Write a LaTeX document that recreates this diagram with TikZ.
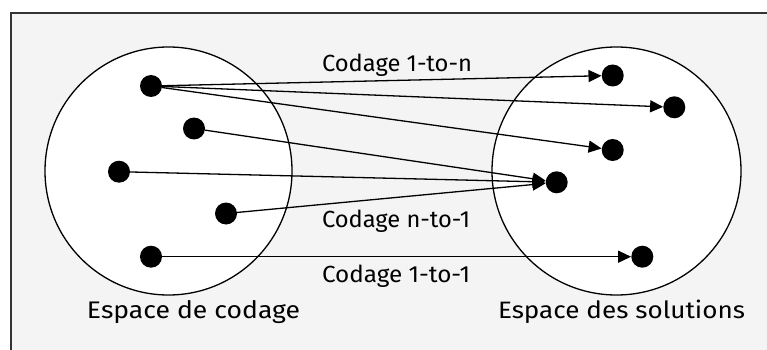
\documentclass[tikz,border=0pt]{standalone}
\usepackage{fontspec}
\usepackage{graphicx}
\setmainfont{Fira Sans}
\usetikzlibrary{arrows.meta,shapes.geometric}
\definecolor{bgcol}{HTML}{F4F4F4}
\definecolor{framecol}{HTML}{333333}
\newcommand{\fitlabel}[3]{\resizebox{#1pt}{#2pt}{#3}}
\tikzset{
  dot/.style={circle, fill=black, minimum size=22pt, inner sep=0pt},
  space/.style={ellipse, draw=black, fill=white, line width=1.3pt, inner sep=0pt},
  arr/.style={-{Triangle[length=13pt,width=12pt]}, line width=1.3pt},
  lbl/.style={anchor=base, inner sep=0pt, text=black, font=\fontsize{20pt}{24pt}\selectfont}
}
\begin{document}
\begin{tikzpicture}[x=1pt,y=-1pt]
\useasboundingbox (0,0) rectangle (767,350);
\fill[white] (0,0) rectangle (767,350);
\fill[bgcol] (11,13) rectangle (767,350);
\draw[framecol, line width=2pt] (11,350) -- (11,13) -- (767,13);

\node[space, minimum width=247pt, minimum height=248pt] (cod) at (168.5,171) {};
\node[space, minimum width=249pt, minimum height=248pt] (sol) at (616.5,171) {};

\node[dot] (a1) at (151,86) {};
\node[dot] (a2) at (194,128.5) {};
\node[dot] (a3) at (119,171.7) {};
\node[dot] (a4) at (226,213.5) {};
\node[dot] (a5) at (151,256.7) {};

\node[dot] (b1) at (612.7,75.5) {};
\node[dot] (b2) at (674.3,107.3) {};
\node[dot] (b3) at (612.7,150) {};
\node[dot] (b4) at (556.7,182.3) {};
\node[dot] (b5) at (642.3,256.7) {};

\draw[arr] (a1) -- (b1);
\draw[arr] (a1) -- (b2);
\draw[arr] (a1) -- (b3);
\draw[arr] (a2) -- (b4);
\draw[arr] (a3) -- (b4);
\draw[arr] (a4) -- (b4);
\draw[arr] (a5) -- (b5);

\node[lbl] (l1) at (397,71.5) {\fitlabel{150}{17.5}{Codage 1-to-n}};
\node[lbl] (l2) at (396,227.5) {\fitlabel{148}{17.5}{Codage n-to-1}};
\node[lbl] (l3) at (396,282) {\fitlabel{148}{17.5}{Codage 1-to-1}};
\node[lbl] (l4) at (193.5,318) {\fitlabel{213}{18}{Espace de codage}};
\node[lbl] (l5) at (621.5,318.3) {\fitlabel{247}{18.5}{Espace des solutions}};
\end{tikzpicture}
\end{document}
